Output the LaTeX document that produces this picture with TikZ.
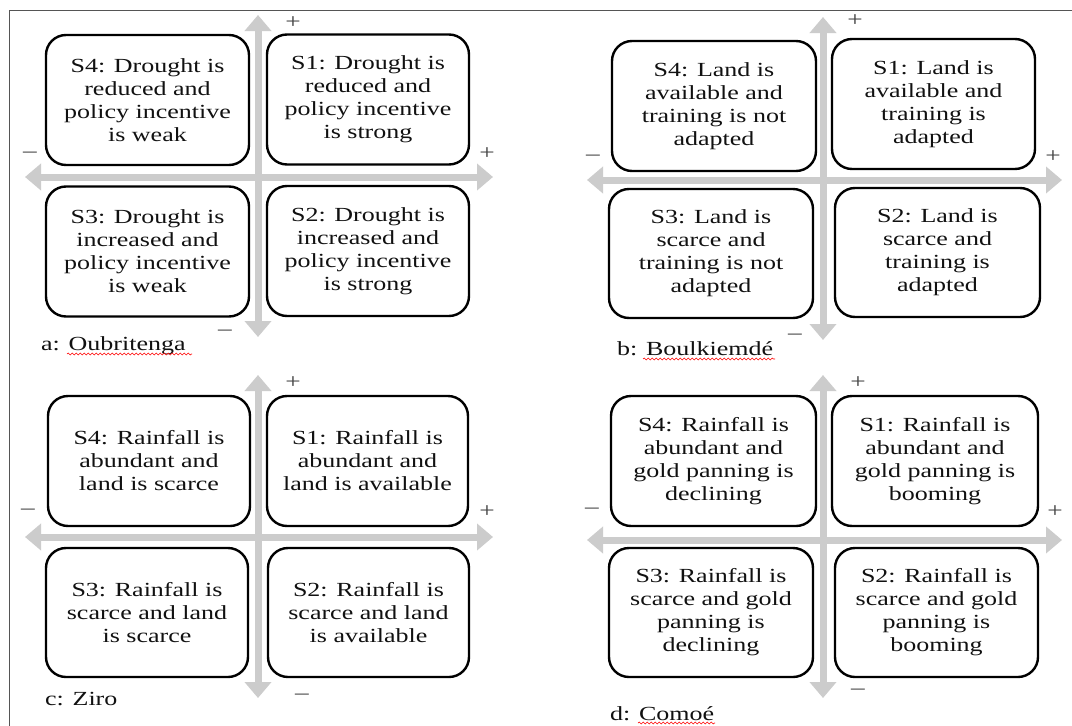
\documentclass[tikz,border=0pt]{standalone}
\usepackage{fontspec}
\setmainfont{Liberation Serif}[FakeStretch=1.3]
\usetikzlibrary{arrows.meta,decorations.pathmorphing}
\definecolor{axgray}{HTML}{CCCCCC}
\definecolor{signgray}{HTML}{444444}
\definecolor{framegray}{HTML}{555555}
\definecolor{txt}{HTML}{111111}
\tikzset{
  sbox/.style={draw=black, line width=2.4pt, rounded corners=20pt, align=center,
    text=txt, font=\fontsize{20}{23}\selectfont, inner sep=0pt,
    minimum width=203pt, minimum height=130pt},
  axisarrow/.style={draw=axgray, line width=7pt,
    {Triangle[width=26pt,length=16pt]}-{Triangle[width=26pt,length=16pt]}},
  sign/.style={text=signgray, font=\fontsize{21}{21}\selectfont, inner sep=0pt},
  captxt/.style={text=txt, font=\fontsize{20}{23}\selectfont, inner sep=0pt, anchor=base west},
  wavy/.style={draw=red, line width=0.6pt, decorate,
    decoration={snake, amplitude=0.9pt, segment length=4pt}},
  frameline/.style={draw=framegray, line width=1pt}
}
\begin{document}
\begin{tikzpicture}[x=1pt,y=-1pt]
\useasboundingbox (0,0) rectangle (1072,726);
\fill[white] (0,0) rectangle (1072,726);
\draw[frameline] (9.5,726) -- (9.5,10.5) -- (1072,10.5);

% ---------- panel a ----------
\coordinate (aT) at (258,15);  \coordinate (aB) at (258,337);
\coordinate (aL) at (25,177);  \coordinate (aR) at (493,177);
\draw[axisarrow] (aB) -- (aT);
\draw[axisarrow] (aL) -- (aR);
\node[sbox] (aS4) at (147.5,100) {S4: Drought is\\reduced and\\policy incentive\\is weak};
\node[sbox, minimum width=202pt] (aS1) at (368,99.5) {S1: Drought is\\reduced and\\policy incentive\\is strong};
\node[sbox] (aS3) at (147.5,251.5) {S3: Drought is\\increased and\\policy incentive\\is weak};
\node[sbox, minimum width=202pt] (aS2) at (368,251) {S2: Drought is\\increased and\\policy incentive\\is strong};
\node[sign] (aP1) at (293,23) {+};
\node[sign] (aP2) at (487,154) {+};
\node[sign] (aM1) at (30,155) {\textendash};
\node[sign] (aM2) at (225,333) {\textendash};
\node[captxt] (aC) at (41,350) {a: Oubritenga};
\draw[wavy] (67,354) -- (192,354);

% ---------- panel b ----------
\coordinate (bT) at (823,17);  \coordinate (bB) at (823,340);
\coordinate (bL) at (587,180); \coordinate (bR) at (1062,180);
\draw[axisarrow] (bB) -- (bT);
\draw[axisarrow] (bL) -- (bR);
\node[sbox, minimum width=204pt] (bS4) at (714,106) {S4: Land is\\available and\\training is not\\adapted};
\node[sbox] (bS1) at (933.5,104) {S1: Land is\\available and\\training is\\adapted};
\node[sbox, minimum width=204pt, minimum height=129pt] (bS3) at (711,253.5) {S3: Land is\\scarce and\\training is not\\adapted};
\node[sbox, minimum width=205pt, minimum height=129pt] (bS2) at (937.5,252.5) {S2: Land is\\scarce and\\training is\\adapted};
\node[sign] (bP1) at (855,21) {+};
\node[sign] (bP2) at (1053,157) {+};
\node[sign] (bM1) at (593,158) {\textendash};
\node[sign] (bM2) at (795,337) {\textendash};
\node[captxt] (bC) at (617,355) {b: Boulkiemdé};
\draw[wavy] (643,359) -- (775,359);

% ---------- panel c ----------
\coordinate (cT) at (258,375);  \coordinate (cB) at (258,698);
\coordinate (cL) at (25,537);   \coordinate (cR) at (493,537);
\draw[axisarrow] (cB) -- (cT);
\draw[axisarrow] (cL) -- (cR);
\node[sbox, minimum width=202pt] (cS4) at (149,461) {S4: Rainfall is\\abundant and\\land is scarce};
\node[sbox, minimum width=201pt] (cS1) at (367.5,461) {S1: Rainfall is\\abundant and\\land is available};
\node[sbox, minimum width=202pt, minimum height=129pt] (cS3) at (147,612.5) {S3: Rainfall is\\scarce and land\\is scarce};
\node[sbox, minimum width=201pt, minimum height=129pt] (cS2) at (368.5,612.5) {S2: Rainfall is\\scarce and land\\is available};
\node[sign] (cP1) at (293,383) {+};
\node[sign] (cP2) at (487,512) {+};
\node[sign] (cM1) at (28,512) {\textendash};
\node[sign] (cM2) at (302,697) {\textendash};
\node[captxt] (cC) at (45,705) {c: Ziro};

% ---------- panel d ----------
\coordinate (dT) at (823,375);  \coordinate (dB) at (823,698);
\coordinate (dL) at (587,540);  \coordinate (dR) at (1062,540);
\draw[axisarrow] (dB) -- (dT);
\draw[axisarrow] (dL) -- (dR);
\node[sbox, minimum width=205pt] (dS4) at (713.5,461) {S4: Rainfall is\\abundant and\\gold panning is\\declining};
\node[sbox, minimum width=206pt] (dS1) at (935,461) {S1: Rainfall is\\abundant and\\gold panning is\\booming};
\node[sbox, minimum width=204pt, minimum height=129pt] (dS3) at (711,612.5) {S3: Rainfall is\\scarce and gold\\panning is\\declining};
\node[sbox, minimum height=129pt] (dS2) at (936.5,612.5) {S2: Rainfall is\\scarce and gold\\panning is\\booming};
\node[sign] (dP1) at (858,383) {+};
\node[sign] (dP2) at (1055,512) {+};
\node[sign] (dM1) at (592,511) {\textendash};
\node[sign] (dM2) at (858,692) {\textendash};
\node[captxt] (dC) at (610,720) {d: Comoé};
\draw[wavy] (638,723) -- (715,723);
\end{tikzpicture}
\end{document}
